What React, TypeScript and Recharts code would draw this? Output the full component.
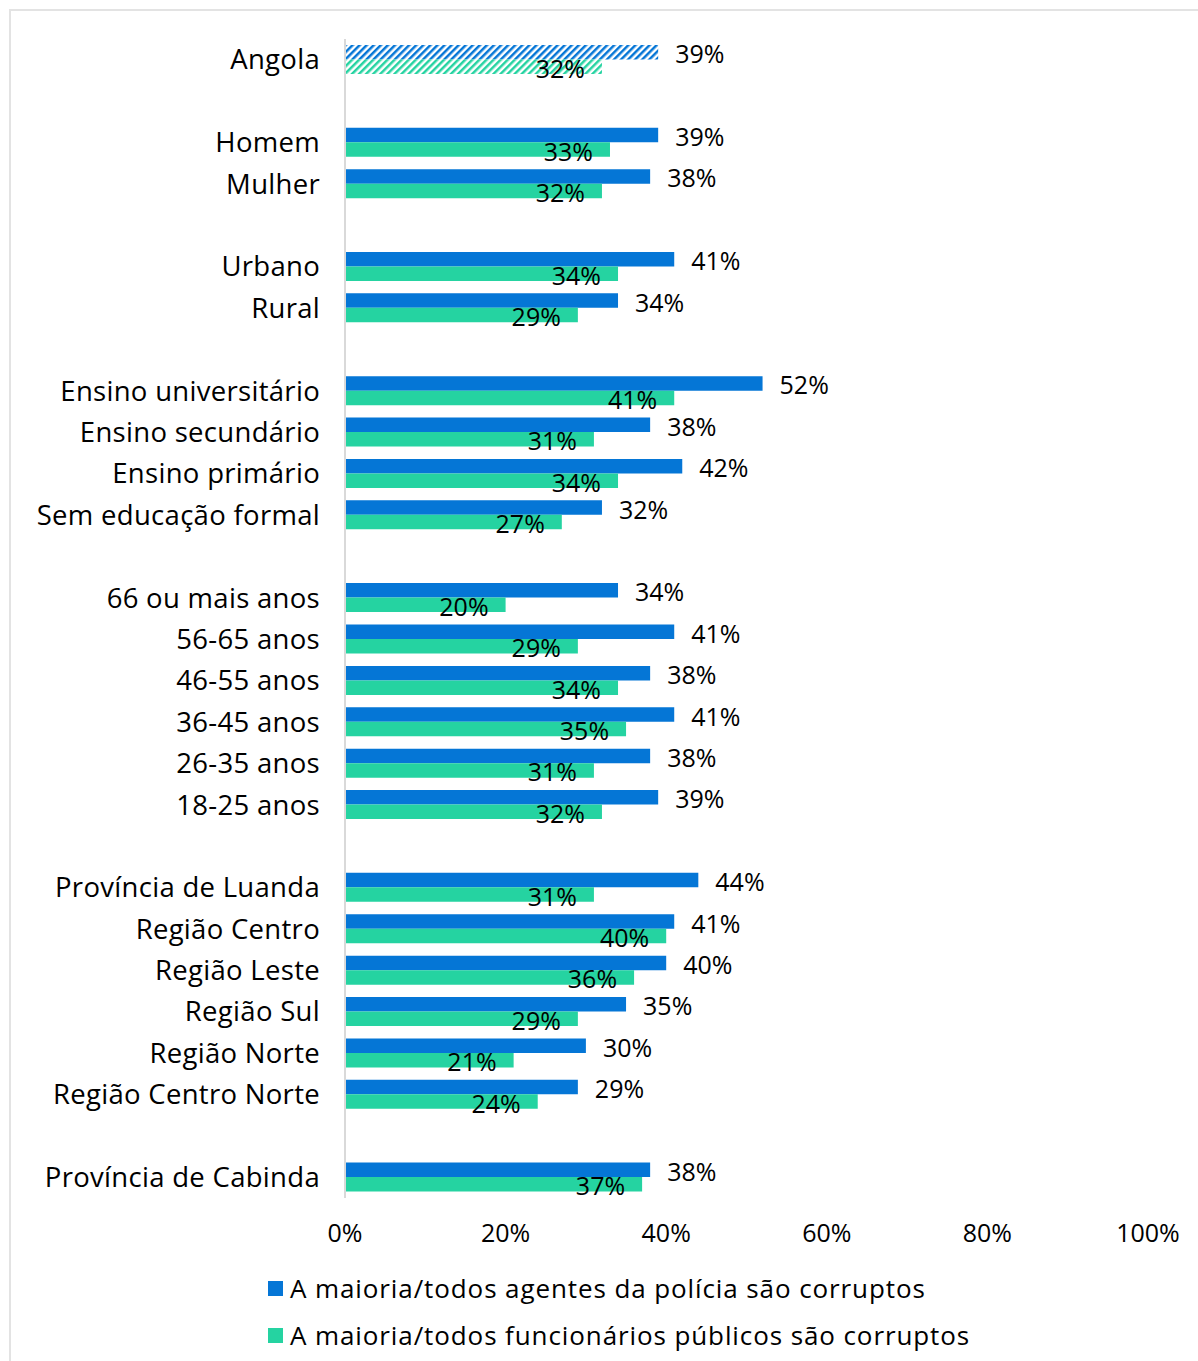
import React from "react";
import { BarChart, Bar, XAxis, YAxis, Cell, LabelList, Legend } from "recharts";

const categories = [
  "Angola", "", "Homem", "Mulher", "", "Urbano", "Rural", "",
  "Ensino universitário", "Ensino secundário", "Ensino primário", "Sem educação formal", "",
  "66 ou mais anos", "56-65 anos", "46-55 anos", "36-45 anos", "26-35 anos", "18-25 anos", "",
  "Província de Luanda", "Região Centro", "Região Leste", "Região Sul", "Região Norte", "Região Centro Norte", "",
  "Província de Cabinda",
];
const police = [39, null, 39, 38, null, 41, 34, null, 52, 38, 42, 32, null, 34, 41, 38, 41, 38, 39, null, 44, 41, 40, 35, 30, 29, null, 38];
const publicServants = [32, null, 33, 32, null, 34, 29, null, 41, 31, 34, 27, null, 20, 29, 34, 35, 31, 32, null, 31, 40, 36, 29, 21, 24, null, 37];
const xTicks = [0, 20, 40, 60, 80, 100];
const seriesNames = [
  "A maioria/todos agentes da polícia são corruptos",
  "A maioria/todos funcionários públicos são corruptos",
];

const BLUE = "#0576D6";
const GREEN = "#25D3A1";
const FONT = "'Open Sans', sans-serif";

const data = categories.map((c, i) => ({ id: i, police: police[i], pub: publicServants[i] }));

const BlueLabel = (props: any) => {
  const { x, y, width, height, value } = props;
  if (value === null || value === undefined) return null;
  return (
    <text x={x + width + 17} y={y + height / 2 + 1} textAnchor="start" dominantBaseline="central"
      fontFamily={FONT} fontSize={25} fill="#000">{value}%</text>
  );
};
const GreenLabel = (props: any) => {
  const { x, y, width, height, value } = props;
  if (value === null || value === undefined) return null;
  return (
    <text x={x + width - 17} y={y + height / 2 + 1} textAnchor="end" dominantBaseline="central"
      fontFamily={FONT} fontSize={25} fill="#000">{value}%</text>
  );
};

const LegendContent = () => (
  <div style={{ position: "relative", width: 1198, height: 100, fontFamily: FONT, fontSize: 26, letterSpacing: 0.9, color: "#000" }}>
    {seriesNames.map((n, i) => (
      <div key={n} style={{ position: "absolute", left: 268, top: i * 47, height: 40, display: "flex", alignItems: "center", whiteSpace: "nowrap" }}>
        <span style={{ display: "inline-block", width: 15, height: 15, background: i === 0 ? BLUE : GREEN, marginRight: 7 }} />
        <span>{n}</span>
      </div>
    ))}
  </div>
);

export default function App() {
  return (
    <div style={{ position: "absolute", left: 0, top: 0, width: 1198, height: 1361, overflow: "hidden", background: "#fff" }}>
      <div style={{ position: "absolute", left: 9, top: 9, width: 1300, height: 1500, border: "2px solid #e3e3e3", boxSizing: "border-box" }} />
      <BarChart
        width={1198}
        height={1361}
        data={data}
        layout="vertical"
        margin={{ top: 39, right: 50, bottom: 123, left: 10 }}
        barSize={14.5}
        barGap={0}
        style={{ position: "absolute", left: 0, top: 0 }}
      >
        <defs>
          <pattern id="hatchBlue" patternUnits="userSpaceOnUse" width="5" height="5" patternTransform="rotate(45)">
            <rect width="5" height="5" fill="#fff" />
            <rect width="2.5" height="5" fill={BLUE} />
          </pattern>
          <pattern id="hatchGreen" patternUnits="userSpaceOnUse" width="5" height="5" patternTransform="rotate(45)">
            <rect width="5" height="5" fill="#fff" />
            <rect width="2.5" height="5" fill={GREEN} />
          </pattern>
        </defs>
        <XAxis
          type="number"
          domain={[0, 100]}
          ticks={xTicks}
          tickFormatter={(v: number) => `${v}%`}
          axisLine={false}
          tickLine={false}
          tickSize={0}
          tickMargin={26}
          height={40}
          interval={0}
          tick={{ fontFamily: FONT, fontSize: 25, fill: "#000" }}
        />
        <YAxis
          type="category"
          dataKey="id"
          width={335}
          tickFormatter={(v: number) => categories[v]}
          axisLine={{ stroke: "#d9d9d9", strokeWidth: 2 }}
          tickLine={false}
          tickSize={0}
          tickMargin={25}
          interval={0}
          tick={{ fontFamily: FONT, fontSize: 27.5, fill: "#000", letterSpacing: 0.3 }}
        />
        <Legend
          layout="horizontal"
          verticalAlign="middle"
          align="center"
          wrapperStyle={{ top: 1268, left: 0, width: 1198 }}
          content={() => <LegendContent />}
        />
        <Bar dataKey="police" name={seriesNames[0]} fill={BLUE} isAnimationActive={false}>
          {data.map((d, i) => (
            <Cell key={i} fill={i === 0 ? "url(#hatchBlue)" : BLUE} />
          ))}
          <LabelList dataKey="police" content={BlueLabel} />
        </Bar>
        <Bar dataKey="pub" name={seriesNames[1]} fill={GREEN} isAnimationActive={false}>
          {data.map((d, i) => (
            <Cell key={i} fill={i === 0 ? "url(#hatchGreen)" : GREEN} />
          ))}
          <LabelList dataKey="pub" content={GreenLabel} />
        </Bar>
      </BarChart>
    </div>
  );
}
